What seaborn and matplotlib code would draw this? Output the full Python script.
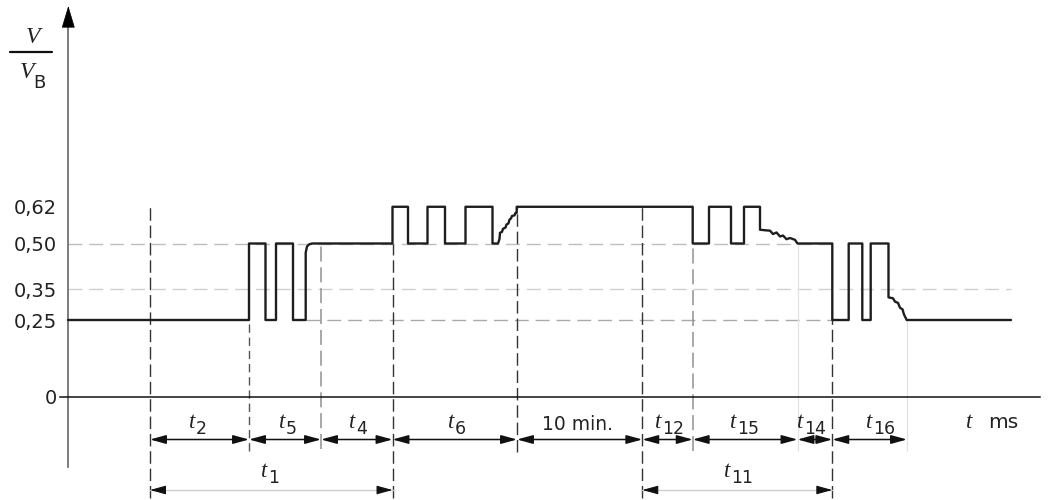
import numpy as np
import pandas as pd
import matplotlib
matplotlib.use("Agg")
import matplotlib.pyplot as plt
import seaborn as sns
from matplotlib.transforms import blended_transform_factory

# ---------------- data ----------------
# signal V/VB over time (schematic time units)
sig_t = [68, 249, 249, 265.5, 265.5, 276, 276, 293, 293, 305.7, 305.7, 307, 309, 312,
         392.5, 392.5, 408, 408, 427.5, 427.5, 445, 445, 465.5, 465.5, 492.5, 492.5, 498,
         499.5, 500, 502, 503, 505.5, 506.5, 508.5, 509.5, 511, 512, 514.5, 515.5, 516.7, 516.7,
         692.7, 692.7, 709, 709, 731, 731, 744, 744, 760, 760,
         766, 770, 773, 776.5, 780, 783, 786.5, 790, 795, 797.5,
         832.3, 832.3, 848.7, 848.7, 862.3, 862.3, 870.7, 870.7, 888.5, 888.5,
         893, 895, 898, 900, 902.5, 904, 906.7, 1011]
sig_v = [0.25, 0.25, 0.50, 0.50, 0.25, 0.25, 0.50, 0.50, 0.25, 0.25, 0.47, 0.49, 0.497, 0.50,
         0.50, 0.62, 0.62, 0.50, 0.50, 0.62, 0.62, 0.50, 0.50, 0.62, 0.62, 0.50, 0.50,
         0.515, 0.535, 0.538, 0.548, 0.552, 0.562, 0.566, 0.578, 0.582, 0.590, 0.592, 0.600, 0.600, 0.62,
         0.62, 0.50, 0.50, 0.62, 0.62, 0.50, 0.50, 0.62, 0.62, 0.545,
         0.543, 0.542, 0.531, 0.536, 0.523, 0.526, 0.514, 0.518, 0.512, 0.50,
         0.50, 0.25, 0.25, 0.50, 0.50, 0.25, 0.25, 0.50, 0.50, 0.324,
         0.321, 0.310, 0.306, 0.290, 0.285, 0.268, 0.25, 0.25]

ytick_vals = [0, 0.25, 0.35, 0.50, 0.62]
ytick_labels = ["0", "0,25", "0,35", "0,50", "0,62"]

# interval boundaries (row 1) and labels
bounds_row1 = [150, 249, 321, 392.5, 517, 642.3, 692.7, 797.5, 832.3, 907]
row1_subs = ["2", "5", "4", "6", None, "12", "15", "14", "16"]
row1_text = [None, None, None, None, "10 min.", None, None, None, None]
# row 2 intervals
row2_spans = [(150, 392.5), (642.3, 832.3)]
row2_subs = ["1", "11"]

# ---------------- layout helpers ----------------
Y0PX, SCALE = 396.5, 306.0
def v_of_px(p):
    return (Y0PX - p) / SCALE

sns.set_style("white")
plt.rcParams["font.family"] = ["DejaVu Sans"]

fig = plt.figure(figsize=(10.51, 5), dpi=100)
ax = fig.add_axes([0, 0, 1, 1])

# reference dashed lines (horizontal)
ax.hlines(0.50, 68, 832.3, colors="#bdbdbd", lw=1.0, linestyles=(0, (10, 5)), zorder=1)
ax.hlines(0.35, 68, 1011, colors="#d0d0d0", lw=1.0, linestyles=(0, (10, 5)), zorder=1)
ax.hlines(0.25, 305.7, 832.3, colors="#aaaaaa", lw=1.0, linestyles=(0, (10, 5)), zorder=1)

# vertical dashed lines
dark = "#333333"
ax.vlines(150, v_of_px(498), 0.625, colors=dark, lw=1.0, linestyles=(0, (9, 3.5)), zorder=2)
ax.vlines(392.5, v_of_px(498), 0.50, colors=dark, lw=1.0, linestyles=(0, (9, 3.5)), zorder=2)
ax.vlines(517, v_of_px(452), 0.62, colors=dark, lw=1.0, linestyles=(0, (9, 3.5)), zorder=2)
ax.vlines(642.3, v_of_px(498), 0.62, colors=dark, lw=1.0, linestyles=(0, (9, 3.5)), zorder=2)
ax.vlines(832.3, v_of_px(498), 0.25, colors=dark, lw=1.0, linestyles=(0, (9, 3.5)), zorder=2)
ax.vlines(249, v_of_px(451), 0.25, colors="#555555", lw=1.0, linestyles=(0, (6, 3.5)), zorder=2)
ax.vlines(321, v_of_px(449), 0.50, colors="#999999", lw=1.2, linestyles=(0, (9, 3.5)), zorder=2)
ax.vlines(692.7, v_of_px(451), 0.50, colors="#999999", lw=1.2, linestyles=(0, (9, 3.5)), zorder=2)
ax.vlines(797.5, v_of_px(451), 0.50, colors="#e3e3e3", lw=0.9, zorder=2)
ax.vlines(907, v_of_px(451), 0.25, colors="#e3e3e3", lw=0.9, zorder=2)

# signal
sns.lineplot(x=sig_t, y=sig_v, sort=False, estimator=None, ax=ax,
             color="#1e1e1e", lw=1.7, zorder=5)

# axes
ax.set_xlim(0, 1051)
ax.set_ylim(v_of_px(500), v_of_px(0))
for s in ["top", "right"]:
    ax.spines[s].set_visible(False)
ax.spines["left"].set_position(("data", 68.3))
ax.spines["left"].set_bounds(v_of_px(467), v_of_px(26))
ax.spines["left"].set_color("#666666")
ax.spines["left"].set_linewidth(1.2)
ax.spines["bottom"].set_position(("data", 0))
ax.spines["bottom"].set_bounds(60, 1040)
ax.spines["bottom"].set_color("#111111")
ax.spines["bottom"].set_linewidth(1.1)
ax.set_xticks([])
ax.set_yticks(ytick_vals, ytick_labels)
ax.tick_params(axis="y", length=0, pad=8.0, labelsize=14, labelcolor="#222222")
ax.set_xlabel("")
ax.set_ylabel("")

# y axis arrow head
ax.annotate("", xy=(68.3, v_of_px(6)), xytext=(68.3, v_of_px(27)),
            arrowprops=dict(arrowstyle="-|>,head_length=1.2,head_width=0.36",
                            color="black", lw=0.5, shrinkA=0, shrinkB=0,
                            mutation_scale=12))

tr = blended_transform_factory(ax.transData, ax.transAxes)
def ypx(p):
    return 1 - p / 500.0

serif = dict(family="Liberation Serif", style="italic", color="#222222")
sans = dict(family="DejaVu Sans", color="#222222")

# y label fraction V / V_B
ax.text(33, ypx(43), "V", ha="center", va="baseline", fontsize=17, transform=tr, **serif)
ax.plot([10, 52], [v_of_px(52), v_of_px(52)], color="#111111", lw=1.6)
ax.text(27, ypx(78), "V", ha="center", va="baseline", fontsize=17, transform=tr, **serif)
ax.text(33, ypx(87.5), "B", ha="left", va="baseline", fontsize=13, transform=tr, **sans)

# row 1 dimension arrows
y1 = v_of_px(439.5)
astyle = "<|-|>,head_length=0.8,head_width=0.22"
for a, b in zip(bounds_row1[:-1], bounds_row1[1:]):
    ax.annotate("", xy=(b, y1), xytext=(a, y1),
                arrowprops=dict(arrowstyle=astyle, color="#111111", lw=1.1,
                                shrinkA=0, shrinkB=0, mutation_scale=12))

# row 1 labels (t right edge positions)
row1_pos = [195, 285, 355.5, 454, 578, 661, 736.5, 803.5, 872]
for x, sub, txt in zip(row1_pos, row1_subs, row1_text):
    if txt is not None:
        ax.text(x, ypx(430), txt, ha="center", va="baseline", fontsize=13.5,
                transform=tr, **sans)
    else:
        ax.text(x, ypx(428), "t", ha="right", va="baseline", fontsize=16.5,
                transform=tr, **serif)
        ax.text(x + 1, ypx(433.5), sub, ha="left", va="baseline", fontsize=12.5,
                transform=tr, **sans)

# "t  ms" axis label
ax.text(972, ypx(428), "t", ha="right", va="baseline", fontsize=16.5, transform=tr, **serif)
ax.text(988, ypx(428), "ms", ha="left", va="baseline", fontsize=14.5, transform=tr, **sans)

# row 2 dimension lines (grey shaft, black heads)
y2 = v_of_px(490)
row2_pos = [267.5, 730]
for (a, b), sub, x in zip(row2_spans, row2_subs, row2_pos):
    ax.plot([a, b], [y2, y2], color="#cfcfcf", lw=1.0, zorder=3)
    for tip, tail in [(a, a + 13), (b, b - 13)]:
        ax.annotate("", xy=(tip, y2), xytext=(tail, y2),
                    arrowprops=dict(arrowstyle="-|>,head_length=0.8,head_width=0.22",
                                    color="#111111", lw=0.8, shrinkA=0, shrinkB=0,
                                    mutation_scale=12))
    ax.text(x, ypx(477), "t", ha="right", va="baseline", fontsize=16.5, transform=tr, **serif)
    ax.text(x + 1, ypx(483), sub, ha="left", va="baseline", fontsize=12.5,
            transform=tr, **sans)

fig.savefig("out.png", dpi=100)
